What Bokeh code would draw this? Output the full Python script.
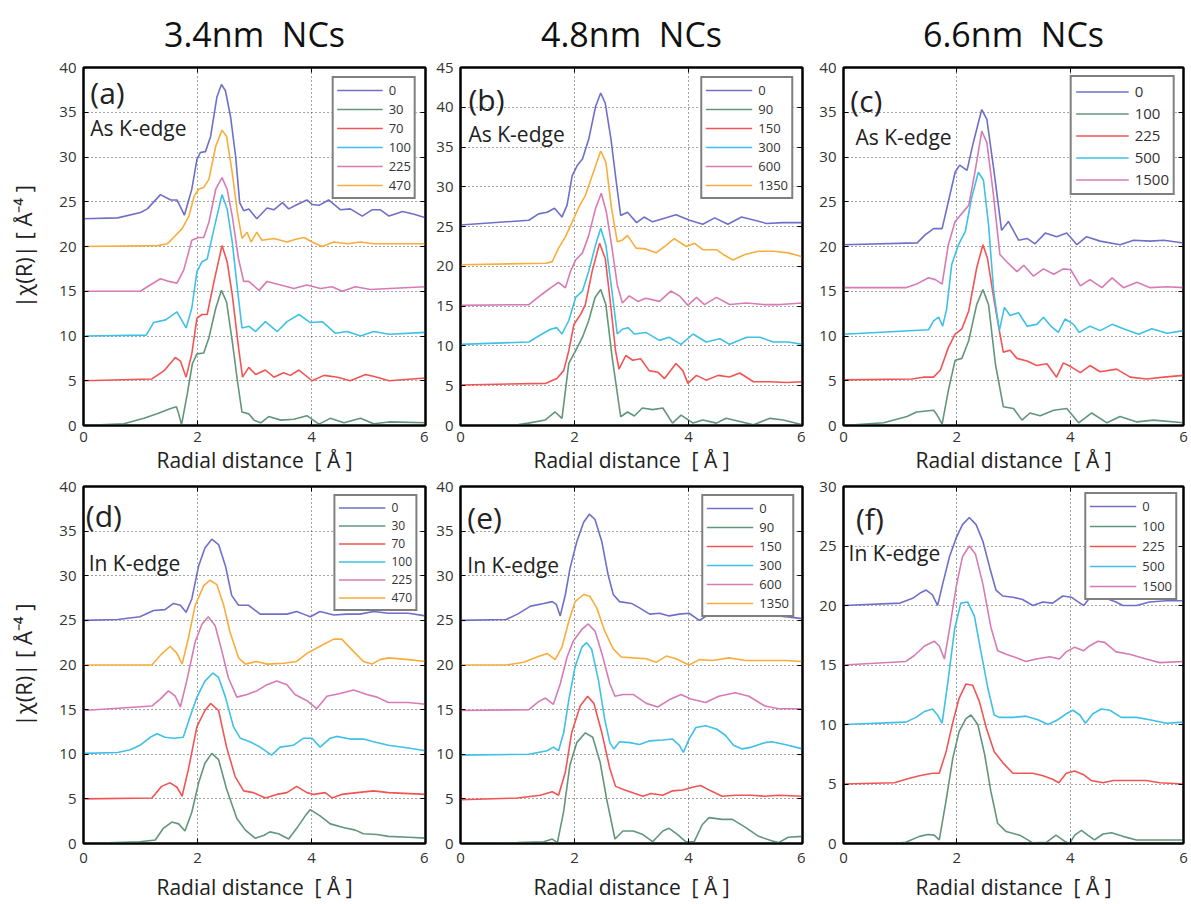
from bokeh.plotting import figure
from bokeh.layouts import row, column
from bokeh.models import Legend, LegendItem, Label, LinearAxis, Range1d, FixedTicker
from bokeh.embed import file_html
from bokeh.resources import INLINE

# ---------------- data ----------------
column_titles = ["3.4nm\u00a0 NCs", "4.8nm\u00a0 NCs", "6.6nm\u00a0 NCs"]
panel_tags = ["(a)", "(b)", "(c)", "(d)", "(e)", "(f)"]
edge_names = ["As K-edge", "As K-edge", "As K-edge", "In K-edge", "In K-edge", "In K-edge"]
x_title = "Radial distance\u00a0 [\u00a0Å\u00a0]"
y_title = "|χ(R)|\u00a0[\u00a0Å⁻⁴\u00a0]"
x_ticks = [0, 2, 4, 6]

# panel (a) 3.4 nm, As K-edge ; legend 0,30,70,100,225,470
a_labels = ["0", "30", "70", "100", "225", "470"]
a0_x = [0,0.6,1.0,1.12,1.35,1.53,1.64,1.77,1.9,1.99,2.05,2.14,2.23,2.34,2.42,2.49,2.58,2.67,2.74,2.81,2.9,3.04,3.22,3.34,3.49,3.6,3.75,3.92,4.01,4.13,4.3,4.51,4.68,4.89,5.06,5.21,5.36,5.6,5.8,6.0]
a0_y = [23.1,23.2,23.8,24.2,25.8,25.2,25.2,23.5,26.4,29.7,30.5,30.6,32.3,36.7,38.1,37.4,34.5,30.0,24.9,24.0,24.2,23.1,24.3,24.1,24.9,24.2,24.7,25.2,24.7,24.6,25.2,24.1,24.2,23.4,24.1,24.1,23.4,23.9,23.6,23.2]
a30_x = [0,0.71,1.06,1.29,1.53,1.63,1.67,1.72,1.82,1.91,1.99,2.11,2.2,2.32,2.42,2.51,2.61,2.7,2.78,2.9,2.99,3.11,3.25,3.46,3.69,3.92,4.13,4.33,4.57,4.86,5.09,5.36,6.0]
a30_y = [0.0,0.2,0.8,1.3,1.9,2.1,1.3,0.1,3.5,6.9,8.0,8.1,9.8,13.1,15.1,13.8,9.4,5.0,1.5,1.3,0.6,0.3,1.0,0.6,0.7,1.1,0.15,0.8,0.3,0.8,0.2,0.4,0.3]
a70_x = [0,1.2,1.41,1.61,1.7,1.8,1.9,1.99,2.08,2.17,2.29,2.43,2.52,2.61,2.72,2.79,2.9,3.02,3.19,3.34,3.51,3.63,3.78,4.01,4.22,4.46,4.68,4.95,5.15,5.36,6.0]
a70_y = [5.0,5.2,6.1,7.6,7.2,5.4,8.0,12.0,12.4,12.4,16.1,20.1,18.3,14.6,8.7,5.4,6.5,5.7,6.2,5.4,5.9,5.6,6.2,5.0,5.6,5.4,5.0,5.7,5.4,5.0,5.3]
a100_x = [0,1.1,1.23,1.44,1.64,1.8,1.9,1.99,2.08,2.17,2.29,2.43,2.52,2.61,2.7,2.78,2.9,3.02,3.19,3.4,3.57,3.78,3.98,4.19,4.42,4.63,4.86,5.09,5.36,6.0]
a100_y = [10.0,10.1,11.5,11.8,12.7,10.9,13.1,17.2,18.3,18.6,22.0,25.8,24.2,20.5,15.3,10.9,11.1,10.5,11.6,10.5,11.6,12.4,11.5,11.6,10.3,10.5,10.0,10.5,10.2,10.4]
a225_x = [0,1.0,1.12,1.35,1.5,1.64,1.76,1.9,2.02,2.11,2.2,2.32,2.43,2.52,2.61,2.72,2.81,2.9,3.08,3.22,3.46,3.69,3.92,4.16,4.36,4.54,4.77,5.04,5.36,6.0]
a225_y = [15.0,15.0,15.5,16.4,16.1,15.9,17.4,20.7,21.0,21.0,22.7,26.4,27.7,26.4,23.4,18.6,16.1,16.1,15.1,16.1,15.7,15.3,15.7,15.3,15.5,15.0,15.5,15.2,15.3,15.5]
a470_x = [0,1.3,1.47,1.61,1.73,1.85,1.94,2.02,2.11,2.2,2.32,2.43,2.51,2.61,2.7,2.78,2.87,2.94,3.04,3.13,3.34,3.57,3.72,3.87,4.01,4.19,4.39,4.63,4.86,5.09,5.36,6.0]
a470_y = [20.0,20.1,20.3,21.2,22.0,23.4,25.6,26.4,26.6,27.5,31.2,33.0,32.3,28.2,23.8,20.9,21.6,20.5,21.6,20.7,20.9,20.5,20.8,21.0,20.5,20.0,20.5,20.3,20.5,20.3,20.3,20.3]

# panel (b) 4.8 nm, As K-edge ; legend 0,90,150,300,600,1350
b_labels = ["0", "90", "150", "300", "600", "1350"]
b0_x = [0,1.2,1.37,1.52,1.65,1.78,1.87,1.96,2.05,2.14,2.25,2.37,2.46,2.54,2.64,2.74,2.81,2.93,3.09,3.22,3.37,3.55,3.78,4.02,4.25,4.46,4.69,4.93,5.16,5.37,5.66,6.0]
b0_y = [25.2,25.8,26.6,26.8,27.3,26.2,27.7,31.4,32.7,33.5,36.0,40.1,41.8,40.5,36.0,30.2,26.4,26.8,25.5,26.2,25.6,26.0,26.5,25.8,25.3,26.1,25.3,26.2,25.8,25.4,25.5,25.5]
b90_x = [0,1.0,1.19,1.49,1.66,1.78,1.9,2.02,2.14,2.25,2.36,2.46,2.55,2.66,2.81,2.93,3.05,3.19,3.37,3.55,3.72,3.87,4.08,4.25,4.49,4.66,4.9,5.14,5.43,5.66,6.0]
b90_y = [0.0,0.1,0.3,0.7,1.7,0.9,7.8,9.4,11.1,13.2,16.1,17.1,15.2,8.6,1.1,1.7,1.2,2.2,2.0,2.2,0.3,1.3,0.3,0.7,0.3,0.9,0.5,0.1,0.9,0.7,0.1]
b150_x = [0,1.5,1.69,1.81,1.9,1.99,2.11,2.19,2.31,2.44,2.54,2.64,2.72,2.78,2.9,3.02,3.16,3.31,3.46,3.58,3.78,3.9,3.99,4.14,4.31,4.52,4.72,4.9,5.14,5.43,5.72,6.0]
b150_y = [5.1,5.3,5.9,6.9,9.4,12.7,14.0,15.2,19.4,22.9,21.0,14.8,9.4,7.1,8.8,8.2,8.4,6.9,6.7,5.9,7.8,6.9,5.3,6.3,5.7,6.3,6.1,6.6,5.5,5.5,5.4,5.5]
b300_x = [0,1.2,1.43,1.58,1.69,1.78,1.9,2.02,2.14,2.25,2.37,2.46,2.55,2.65,2.75,2.84,2.94,3.05,3.25,3.49,3.66,3.87,4.08,4.31,4.55,4.72,5.02,5.25,5.49,5.75,6.0]
b300_y = [10.2,10.5,11.5,12.1,12.3,11.5,13.2,16.1,16.9,19.4,22.7,24.8,22.7,17.3,11.5,12.1,12.3,11.5,11.7,10.7,11.1,10.2,11.5,10.5,10.9,10.2,11.1,11.1,10.5,10.5,10.2]
b600_x = [0,1.2,1.43,1.58,1.72,1.84,1.93,2.02,2.14,2.25,2.37,2.47,2.56,2.65,2.75,2.84,2.96,3.11,3.25,3.49,3.69,3.84,3.99,4.14,4.28,4.49,4.72,5.02,5.31,5.61,6.0]
b600_y = [15.1,15.2,16.5,17.3,18.0,17.3,19.4,20.8,21.7,23.9,27.3,29.2,26.8,22.7,17.7,15.4,16.3,15.6,16.0,15.6,16.9,16.3,15.1,16.1,15.2,16.1,15.2,15.4,15.2,15.2,15.4]
b1350_x = [0,1.5,1.61,1.72,1.84,1.96,2.08,2.19,2.31,2.46,2.55,2.65,2.75,2.84,2.93,3.08,3.25,3.43,3.58,3.75,3.96,4.11,4.25,4.49,4.61,4.78,4.99,5.22,5.49,5.75,6.0]
b1350_y = [20.2,20.4,20.6,22.3,23.7,25.6,27.5,28.9,31.4,34.5,33.1,27.3,23.1,23.3,23.9,22.3,22.2,21.7,22.5,23.5,22.5,22.9,22.1,22.1,21.5,20.8,21.5,21.9,21.9,21.7,21.2]

# panel (c) 6.6 nm, As K-edge ; legend 0,100,225,500,1500
c_labels = ["0", "100", "225", "500", "1500"]
c0_x = [0,1.3,1.44,1.59,1.74,1.85,1.97,2.05,2.18,2.29,2.44,2.53,2.65,2.79,2.91,3.09,3.24,3.38,3.56,3.76,3.94,4.12,4.29,4.53,4.88,5.12,5.41,5.65,6.0]
c0_y = [20.2,20.4,21.3,22.0,22.0,25.0,28.3,29.1,28.5,31.6,35.3,34.2,28.7,21.8,22.8,20.7,20.9,20.3,21.5,21.1,21.5,20.2,21.1,20.6,20.2,20.7,20.6,20.7,20.4]
c100_x = [0,0.71,1.12,1.29,1.59,1.65,1.74,1.85,1.97,2.09,2.21,2.35,2.46,2.56,2.68,2.82,3.0,3.15,3.29,3.47,3.71,3.94,4.15,4.38,4.65,4.88,5.18,5.47,6.0]
c100_y = [0.0,0.3,1.0,1.5,1.7,1.2,0.15,3.9,7.3,7.5,9.5,13.5,15.2,13.5,6.9,2.1,1.9,0.6,1.4,1.1,1.7,1.9,0.3,1.4,0.3,1.0,0.4,0.6,0.3]
c225_x = [0,1.2,1.41,1.59,1.71,1.85,1.97,2.09,2.21,2.35,2.46,2.54,2.65,2.75,2.82,2.94,3.06,3.24,3.41,3.59,3.76,3.88,4.03,4.18,4.35,4.53,4.82,5.06,5.35,5.65,6.0]
c225_y = [5.1,5.2,5.4,5.4,6.2,8.7,10.2,10.8,12.8,17.6,20.2,18.7,14.3,10.6,8.2,8.4,7.5,7.2,6.7,6.9,5.4,7.0,6.5,5.9,6.7,6.0,6.3,5.4,5.2,5.4,5.6]
c500_x = [0,1.5,1.59,1.68,1.75,1.82,1.91,2.03,2.15,2.26,2.38,2.47,2.56,2.65,2.75,2.84,2.94,3.09,3.24,3.41,3.53,3.66,3.79,3.91,4.06,4.16,4.35,4.53,4.74,4.94,5.21,5.44,5.71,6.0]
c500_y = [10.2,10.7,11.7,12.1,11.1,13.0,18.0,20.2,21.7,25.4,28.3,27.4,22.4,15.0,10.6,13.2,12.3,12.6,11.1,11.3,12.1,11.1,10.4,11.9,11.3,10.4,11.1,10.6,11.3,10.8,10.2,10.8,10.3,10.6]
c1500_x = [0,1.1,1.29,1.5,1.62,1.74,1.85,1.97,2.09,2.21,2.32,2.44,2.53,2.64,2.76,2.88,3.06,3.18,3.35,3.53,3.71,3.88,4.01,4.18,4.35,4.56,4.74,4.94,5.18,5.41,5.71,6.0]
c1500_y = [15.4,15.4,15.8,16.5,16.3,15.8,20.2,22.8,23.7,24.6,28.3,32.9,31.6,26.1,19.1,18.3,17.2,17.9,16.7,17.5,16.9,17.5,17.4,15.6,16.3,15.4,16.5,15.4,16.0,15.4,15.5,15.4]

# panel (d) 3.4 nm, In K-edge ; legend 0,30,70,100,225,470
d_labels = ["0", "30", "70", "100", "225", "470"]
d0_x = [0,0.6,0.99,1.23,1.43,1.58,1.7,1.8,1.9,2.02,2.13,2.25,2.37,2.49,2.6,2.72,2.89,3.1,3.33,3.57,3.74,3.86,3.98,4.15,4.39,4.62,4.85,5.09,5.35,5.7,6.0]
d0_y = [25.0,25.1,25.4,26.1,26.2,26.9,26.7,25.9,27.4,31.1,33.1,34.1,33.5,31.1,27.8,26.7,26.7,25.7,25.7,25.7,26.0,25.7,25.4,26.0,25.6,25.7,25.7,26.0,25.8,25.8,25.5]
d30_x = [0,0.99,1.26,1.4,1.55,1.67,1.78,1.9,2.02,2.13,2.25,2.37,2.51,2.69,2.84,3.01,3.16,3.27,3.42,3.6,3.74,3.89,3.98,4.15,4.33,4.56,4.77,4.91,5.15,5.35,5.7,6.0]
d30_y = [0.0,0.2,0.4,1.7,2.4,2.2,1.4,3.5,6.8,9.0,10.1,9.4,6.1,2.8,1.5,0.6,0.9,1.3,1.1,0.5,1.7,3.1,3.8,3.1,2.2,1.8,1.5,1.1,1.0,0.8,0.7,0.6]
d70_x = [0,1.2,1.37,1.52,1.64,1.73,1.84,1.99,2.13,2.23,2.37,2.51,2.66,2.81,2.98,3.19,3.39,3.57,3.74,3.92,4.04,4.24,4.36,4.53,4.8,5.09,5.35,6.0]
d70_y = [5.0,5.1,6.4,6.8,6.3,5.3,8.3,13.1,14.9,15.7,14.9,10.8,7.5,5.9,5.7,5.1,5.5,5.7,6.4,5.7,5.5,5.7,5.1,5.5,5.7,5.9,5.7,5.5]
d100_x = [0,0.6,0.82,0.99,1.17,1.29,1.43,1.58,1.75,1.87,1.99,2.13,2.27,2.37,2.49,2.63,2.75,2.92,3.1,3.3,3.45,3.68,3.86,4.01,4.15,4.33,4.44,4.68,4.91,5.09,5.35,5.7,6.0]
d100_y = [10.1,10.2,10.5,11.0,11.9,12.3,11.9,11.8,11.9,14.2,16.4,18.2,19.1,18.6,16.4,13.1,11.8,11.4,10.8,9.9,10.8,11.0,11.8,11.8,10.8,11.8,12.0,11.7,11.7,11.4,11.0,10.7,10.4]
d225_x = [0,1.2,1.35,1.49,1.61,1.7,1.81,1.96,2.08,2.19,2.31,2.43,2.54,2.69,2.87,3.04,3.22,3.39,3.57,3.71,3.92,4.09,4.27,4.5,4.74,4.97,5.15,5.35,5.7,6.0]
d225_y = [14.9,15.4,16.2,17.1,16.5,15.3,18.2,22.6,24.6,25.4,24.4,21.5,18.6,16.4,16.7,17.1,17.8,18.2,17.8,16.7,16.0,15.1,16.5,16.8,17.2,16.7,16.4,15.8,15.8,15.6]
d470_x = [0,1.2,1.35,1.52,1.64,1.73,1.84,1.96,2.11,2.22,2.34,2.46,2.57,2.72,2.84,3.04,3.22,3.51,3.74,3.92,4.15,4.39,4.53,4.74,4.91,5.06,5.2,5.35,5.7,6.0]
d470_y = [20.0,20.0,21.1,22.1,21.3,20.1,23.0,26.7,28.9,29.5,29.0,26.7,23.7,20.8,20.1,20.4,20.1,20.2,20.4,21.3,22.1,22.9,22.9,21.5,20.4,20.1,20.6,20.8,20.6,20.4]

# panel (e) 4.8 nm, In K-edge ; legend 0,90,150,300,600,1350
e_labels = ["0", "90", "150", "300", "600", "1350"]
e0_x = [0,0.8,1.0,1.23,1.46,1.61,1.68,1.75,1.84,1.92,2.04,2.16,2.26,2.36,2.48,2.59,2.68,2.79,3.0,3.14,3.32,3.49,3.66,3.84,4.01,4.19,4.39,4.59,4.82,5.06,5.29,5.58,6.0]
e0_y = [25.0,25.1,25.7,26.6,26.9,27.1,26.8,25.5,27.9,30.8,33.8,36.0,36.9,36.3,33.8,30.1,27.9,27.1,26.9,26.4,25.7,25.8,25.5,25.7,25.8,25.0,25.8,25.5,26.0,26.0,25.7,25.5,25.2]
e90_x = [0,1.0,1.46,1.61,1.7,1.81,1.92,2.04,2.19,2.32,2.45,2.56,2.71,2.85,3.03,3.2,3.37,3.55,3.66,3.81,3.95,4.1,4.24,4.36,4.59,4.77,5.0,5.23,5.46,5.58,5.75,6.0]
e90_y = [0.0,0.1,0.2,0.5,0.1,3.6,8.8,11.3,12.4,11.9,9.1,5.1,0.5,1.4,1.4,1.0,0.2,1.4,1.7,1.0,0.2,0.2,2.1,2.9,2.7,2.7,1.8,0.8,0.3,0.1,0.7,0.8]
e150_x = [0,1.0,1.4,1.61,1.72,1.84,1.95,2.1,2.23,2.34,2.48,2.62,2.72,2.88,3.06,3.2,3.34,3.55,3.72,3.9,4.07,4.21,4.39,4.59,4.82,5.11,5.34,5.58,6.0]
e150_y = [4.9,5.1,5.4,5.8,5.4,8.0,12.4,15.4,16.5,15.7,12.4,8.4,6.4,6.0,5.6,5.3,5.6,5.4,5.9,6.0,6.3,6.5,5.9,5.3,5.4,5.4,5.3,5.4,5.3]
e300_x = [0,1.2,1.52,1.63,1.72,1.81,1.9,2.01,2.13,2.21,2.3,2.42,2.53,2.62,2.69,2.79,2.97,3.14,3.32,3.55,3.72,3.84,3.91,4.01,4.13,4.3,4.5,4.65,4.79,4.94,5.11,5.34,5.46,5.69,6.0]
e300_y = [9.9,10.0,10.4,10.8,10.4,12.4,16.1,19.8,22.0,22.5,21.8,18.3,13.9,11.3,10.6,11.4,11.3,11.1,11.5,11.6,11.7,11.0,10.2,11.7,13.0,13.2,12.8,12.1,11.0,10.6,10.8,11.3,11.4,11.1,10.6]
e600_x = [0,1.2,1.37,1.49,1.63,1.75,1.87,1.98,2.13,2.24,2.36,2.48,2.62,2.71,2.85,3.03,3.26,3.46,3.66,3.87,4.04,4.3,4.53,4.82,5.06,5.34,5.58,6.0]
e600_y = [14.9,15.0,15.9,16.3,15.6,17.9,20.9,22.7,24.0,24.6,23.8,21.3,17.9,16.5,16.7,16.7,15.7,15.3,16.1,16.7,16.2,15.8,16.5,16.9,16.5,15.4,15.1,15.1]
e1350_x = [0,0.8,1.11,1.34,1.52,1.66,1.78,1.9,2.01,2.16,2.27,2.39,2.53,2.68,2.82,3.03,3.26,3.43,3.61,3.78,4.01,4.19,4.42,4.71,5.0,5.34,5.69,6.0]
e1350_y = [20.0,20.0,20.3,20.9,21.3,20.6,22.0,24.9,27.1,27.9,27.7,26.4,23.8,21.8,20.9,20.8,20.7,20.3,21.0,20.7,20.0,20.6,20.5,20.8,20.5,20.5,20.5,20.4]

# panel (f) 6.6 nm, In K-edge ; legend 0,100,225,500,1500
f_labels = ["0", "100", "225", "500", "1500"]
f0_x = [0,1.0,1.22,1.37,1.46,1.57,1.66,1.75,1.87,1.99,2.1,2.22,2.34,2.46,2.58,2.69,2.81,2.99,3.16,3.34,3.52,3.69,3.87,4.02,4.14,4.24,4.34,4.58,4.81,4.93,5.17,5.4,5.7,6.0]
f0_y = [20.0,20.2,20.6,21.1,21.3,20.9,20.0,21.8,24.1,25.7,26.8,27.4,26.8,25.4,23.2,21.3,20.8,20.7,20.5,20.0,20.3,20.2,20.8,20.7,20.3,20.0,20.6,20.7,20.3,20.0,20.0,20.3,20.4,20.4]
f100_x = [0,1.0,1.1,1.34,1.49,1.6,1.69,1.81,1.93,2.04,2.16,2.25,2.37,2.49,2.6,2.72,2.87,3.11,3.34,3.58,3.75,3.9,3.99,4.08,4.2,4.31,4.43,4.58,4.73,4.93,5.17,5.46,6.0]
f100_y = [0.0,0.05,0.1,0.6,0.75,0.7,0.3,3.6,7.2,9.4,10.5,10.8,10.0,7.5,4.4,1.7,1.0,0.7,0.05,0.1,0.7,0.2,0.0,0.7,1.1,0.7,0.3,0.8,0.9,0.6,0.3,0.3,0.3]
f225_x = [0,0.9,1.1,1.34,1.57,1.69,1.81,1.93,2.04,2.16,2.28,2.4,2.52,2.66,2.81,2.99,3.16,3.34,3.52,3.69,3.8,3.93,4.08,4.23,4.37,4.58,4.76,5.05,5.34,5.58,6.0]
f225_y = [5.0,5.1,5.4,5.7,5.9,5.9,7.7,10.2,12.2,13.4,13.3,11.9,9.7,7.7,6.8,5.9,5.9,5.9,5.7,5.4,5.1,5.9,6.1,5.8,5.3,5.1,5.3,5.3,5.3,5.1,5.0]
f500_x = [0,1.1,1.28,1.43,1.57,1.66,1.74,1.84,1.96,2.07,2.19,2.31,2.43,2.55,2.66,2.75,2.99,3.22,3.43,3.61,3.78,3.93,4.05,4.17,4.27,4.4,4.55,4.7,4.9,5.17,5.4,5.7,6.0]
f500_y = [10.0,10.2,10.6,11.1,11.3,10.8,10.1,13.5,18.0,20.2,20.3,19.1,16.0,13.0,10.8,10.6,10.6,10.7,10.4,10.0,10.4,10.9,11.2,10.8,10.1,10.9,11.3,11.2,10.6,10.6,10.4,10.1,10.2]
f1500_x = [0,1.1,1.25,1.43,1.6,1.69,1.78,1.87,1.99,2.1,2.22,2.33,2.46,2.6,2.72,2.87,3.05,3.22,3.4,3.64,3.81,3.93,4.08,4.24,4.34,4.49,4.61,4.81,5.05,5.34,5.58,6.0]
f1500_y = [15.0,15.3,15.8,16.6,17.0,16.6,15.5,18.0,21.6,24.1,25.0,24.3,21.8,18.2,16.2,15.9,15.6,15.3,15.5,15.7,15.5,16.1,16.5,16.2,16.6,17.0,16.9,16.1,15.9,15.5,15.2,15.3]

y_max = [40, 45, 40, 40, 40, 30]

# ---------------- style ----------------
FONT = "Open Sans"
C_BLUE, C_GREEN, C_RED, C_CYAN, C_PINK, C_ORANGE = "#6f6fc9", "#62967a", "#f25454", "#3fc0e6", "#d77bb5", "#f9ad3c"
six_colors = [C_BLUE, C_GREEN, C_RED, C_CYAN, C_PINK, C_ORANGE]
five_colors = [C_BLUE, C_GREEN, C_RED, C_CYAN, C_PINK]

panels = [
    (list(zip([a0_x, a30_x, a70_x, a100_x, a225_x, a470_x], [a0_y, a30_y, a70_y, a100_y, a225_y, a470_y])), a_labels, six_colors),
    (list(zip([b0_x, b90_x, b150_x, b300_x, b600_x, b1350_x], [b0_y, b90_y, b150_y, b300_y, b600_y, b1350_y])), b_labels, six_colors),
    (list(zip([c0_x, c100_x, c225_x, c500_x, c1500_x], [c0_y, c100_y, c225_y, c500_y, c1500_y])), c_labels, five_colors),
    (list(zip([d0_x, d30_x, d70_x, d100_x, d225_x, d470_x], [d0_y, d30_y, d70_y, d100_y, d225_y, d470_y])), d_labels, six_colors),
    (list(zip([e0_x, e90_x, e150_x, e300_x, e600_x, e1350_x], [e0_y, e90_y, e150_y, e300_y, e600_y, e1350_y])), e_labels, six_colors),
    (list(zip([f0_x, f100_x, f225_x, f500_x, f1500_x], [f0_y, f100_y, f225_y, f500_y, f1500_y])), f_labels, five_colors),
]

# layout geometry (pixels)
FRAME_W = [342, 342, 340]
BORDER_L = [83, 32, 38]
BORDER_R = [3, 3, 5]
FRAME_H = [363, 360]
BORDER_T = [63, 10]
BORDER_B = [50, 57]
TICK_STANDOFF = [6, 9]
LABEL_STANDOFF = [1, 7]
legend_cfg = [
    dict(font="13px", gw=46, gh=16, sp=1, pad=3, margin=9),
    dict(font="13px", gw=47, gh=16, sp=1, pad=3, margin=9),
    dict(font="15px", gw=53, gh=19, sp=2, pad=4, margin=8),
    dict(font="12px", gw=47, gh=15, sp=1, pad=3, margin=8),
    dict(font="13px", gw=47, gh=16, sp=1, pad=3, margin=8),
    dict(font="13px", gw=47, gh=16, sp=2, pad=3, margin=6),
]
tag_pos = [(0.12, 39.5), (0.14, 43.5), (0.12, 38.6), (0.04, 39.0), (0.12, 38.8), (0.22, 29.0)]
edge_pos = [(0.12, 34.8), (0.14, 38.4), (0.21, 33.8), (0.09, 33.0), (0.12, 32.8), (0.09, 25.6)]


def blank_axis(ticks):
    return LinearAxis(ticker=FixedTicker(ticks=ticks),
                      major_label_overrides={t: "" for t in ticks},
                      major_label_standoff=0, major_tick_in=5, major_tick_out=0,
                      minor_tick_line_color=None, axis_line_width=2)


def make_panel(i):
    series, labels, colors = panels[i]
    r, c = divmod(i, 3)
    ym = y_max[i]
    p = figure(width=BORDER_L[c] + FRAME_W[c] + BORDER_R[c],
               height=BORDER_T[r] + FRAME_H[r] + BORDER_B[r],
               x_range=Range1d(0, 6), y_range=Range1d(0, ym),
               output_backend="svg", toolbar_location=None,
               min_border_left=BORDER_L[c], min_border_right=BORDER_R[c],
               min_border_top=BORDER_T[r], min_border_bottom=BORDER_B[r],
               background_fill_color="white", border_fill_color="white")
    yt = list(range(0, ym + 1, 5))
    p.xaxis.ticker = FixedTicker(ticks=x_ticks)
    p.yaxis.ticker = FixedTicker(ticks=yt)
    for ax in (p.xaxis[0], p.yaxis[0]):
        ax.major_tick_in = 5
        ax.major_tick_out = 0
        ax.minor_tick_line_color = None
        ax.axis_line_width = 2
        ax.axis_line_color = "black"
        ax.major_tick_line_color = "black"
        ax.major_label_text_font = FONT
        ax.major_label_text_font_size = "15px"
        ax.major_label_text_color = "#333333"
    p.xaxis.major_label_standoff = TICK_STANDOFF[r]
    p.yaxis.major_label_standoff = 7
    p.xaxis.axis_label = x_title
    p.xaxis.axis_label_text_font = FONT
    p.xaxis.axis_label_text_font_size = "21px"
    p.xaxis.axis_label_text_font_style = "normal"
    p.xaxis.axis_label_text_color = "#222222"
    p.xaxis.axis_label_standoff = LABEL_STANDOFF[r]
    if c == 0:
        p.yaxis.axis_label = y_title
        p.yaxis.axis_label_text_font = FONT
        p.yaxis.axis_label_text_font_size = "22px"
        p.yaxis.axis_label_text_font_style = "normal"
        p.yaxis.axis_label_text_color = "#222222"
        p.yaxis.axis_label_standoff = 18
    p.add_layout(blank_axis(yt), "right")
    p.add_layout(blank_axis(x_ticks), "above")
    for g in (p.xgrid[0], p.ygrid[0]):
        g.grid_line_color = "#333333"
        g.grid_line_dash = "1 3"
        g.grid_line_width = 1
        g.grid_line_alpha = 0.9
    p.xgrid.ticker = FixedTicker(ticks=x_ticks)
    p.ygrid.ticker = FixedTicker(ticks=yt)
    p.outline_line_color = "black"
    p.outline_line_width = 2
    if r == 0:
        p.title.text = column_titles[c]
        p.title.align = "center"
        p.title.vertical_align = "middle"
        p.title.text_font = FONT
        p.title.text_font_size = "34px"
        p.title.text_font_style = "normal"
        p.title.text_color = "#111111"
        p.title.standoff = 19

    items = []
    for (xs, ys), lab, col in zip(series, labels, colors):
        rend = p.line(xs, ys, line_color=col, line_width=1.6)
        items.append(LegendItem(label=lab, renderers=[rend]))
    cfg = legend_cfg[i]
    lg = Legend(items=items, location="top_right",
                label_text_font=FONT, label_text_font_size=cfg["font"],
                label_text_color="#333333",
                glyph_width=cfg["gw"], glyph_height=cfg["gh"], label_height=cfg["gh"],
                spacing=cfg["sp"], padding=cfg["pad"], margin=cfg["margin"], label_standoff=6,
                border_line_color="black", border_line_width=2,
                background_fill_color="white", background_fill_alpha=1.0)
    p.add_layout(lg)

    tx, ty = tag_pos[i]
    p.add_layout(Label(x=tx, y=ty, text=panel_tags[i], text_font=FONT,
                       text_font_size="30px", text_color="#222222", text_baseline="top"))
    ex, ey = edge_pos[i]
    p.add_layout(Label(x=ex, y=ey, text=edge_names[i], text_font=FONT,
                       text_font_size="21px", text_color="#222222", text_baseline="top"))
    return p


figs = [make_panel(i) for i in range(6)]
layout = column(row(*figs[:3]), row(*figs[3:]))
open("out.html", "w").write(file_html(layout, INLINE))
